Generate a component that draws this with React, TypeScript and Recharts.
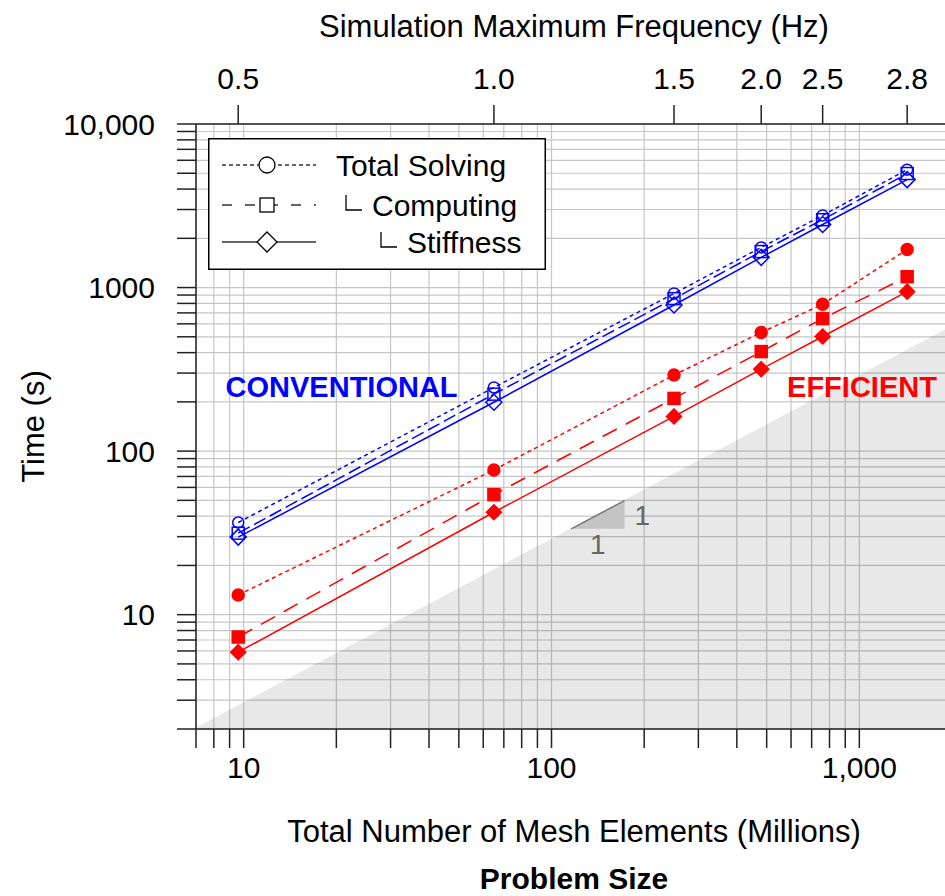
import React from "react";
import {
  Area,
  CartesianGrid,
  ComposedChart,
  Label,
  Legend,
  Line,
  ReferenceDot,
  XAxis,
  YAxis,
} from "recharts";

// problem size (millions of elements) and the matching max frequency
const meshElements = [9.6, 65, 250, 480, 760, 1430];
const frequencyLabels = ["0.5", "1.0", "1.5", "2.0", "2.5", "2.8"];

// conventional (blue)
const convTotal = [36.6, 245, 920, 1760, 2760, 5260];
const convComputing = [31.5, 223, 855, 1660, 2600, 4980];
const convStiffness = [29.8, 199, 782, 1530, 2430, 4570];

// efficient (red)
const effTotal = [13.2, 76.7, 292, 531, 790, 1710];
const effComputing = [7.3, 54.2, 210, 406, 646, 1165];
const effStiffness = [5.9, 42.3, 163, 317, 502, 944];

const xTicks = [
  7, 8, 9, 10, 20, 30, 40, 50, 60, 70, 80, 90, 100, 200, 300, 400, 500, 600,
  700, 800, 900, 1000, 2000,
];
const xTickLabels: Record<number, string> = { 10: "10", 100: "100", 1000: "1,000" };
const yTicks = [
  2, 3, 4, 5, 6, 7, 8, 9, 10, 20, 30, 40, 50, 60, 70, 80, 90, 100, 200, 300,
  400, 500, 600, 700, 800, 900, 1000, 2000, 3000, 4000, 5000, 6000, 7000, 8000,
  9000, 10000,
];
const yTickLabels: Record<number, string> = {
  10: "10",
  100: "100",
  1000: "1000",
  10000: "10,000",
};

// grey region under slope 1 and the small slope triangle
const shadeX = [7, 2000];
const shadeY = [2.04, 583];
const slopeX = [115.9, 172.6];
const slopeY = [33.5, 49.8];

const chartData = meshElements.map((x, i) => ({
  x,
  convTotal: convTotal[i],
  convComputing: convComputing[i],
  convStiffness: convStiffness[i],
  effTotal: effTotal[i],
  effComputing: effComputing[i],
  effStiffness: effStiffness[i],
}));
const shadeData = shadeX.map((x, i) => ({ x, y: shadeY[i] }));
const slopeData = slopeX.map((x, i) => ({ x, y: slopeY[i] }));

const BLUE = "#0000ff";
const RED = "#ff0000";
const AXIS = "#222";

function marker(shape: string, color: string, filled: boolean, size: number) {
  return (props: any) => {
    const { cx, cy, index } = props;
    if (cx == null || cy == null) return null;
    const fill = filled ? color : "none";
    const common = { fill, stroke: color, strokeWidth: 1.5, key: `m-${index}` };
    if (shape === "circle") return <circle cx={cx} cy={cy} r={size} {...common} />;
    if (shape === "square")
      return <rect x={cx - size} y={cy - size} width={size * 2} height={size * 2} {...common} />;
    return (
      <polygon
        points={`${cx},${cy - size} ${cx + size},${cy} ${cx},${cy + size} ${cx - size},${cy}`}
        {...common}
      />
    );
  };
}

function LegendBox() {
  const rows = [
    { y: 27, dash: "4 3", shape: "circle", bracket: null, textX: 128, name: "Total Solving" },
    { y: 67, dash: "10 13", shape: "square", bracket: 136, textX: 164, name: "Computing" },
    { y: 104, dash: undefined, shape: "diamond", bracket: 171, textX: 199, name: "Stiffness" },
  ];
  return (
    <svg width={338} height={132} style={{ display: "block" }}>
      <rect x={0.75} y={0.75} width={336.5} height={130.5} fill="#fff" stroke="#000" strokeWidth={1.5} />
      {rows.map((r) => (
        <g key={r.name}>
          <line x1={14} x2={108} y1={r.y} y2={r.y} stroke="#333" strokeWidth={1.3} strokeDasharray={r.dash} />
          {r.shape === "circle" && <circle cx={59} cy={r.y} r={8} fill="#fff" stroke="#000" strokeWidth={1.3} />}
          {r.shape === "square" && <rect x={52} y={r.y - 7} width={14} height={14} fill="#fff" stroke="#000" strokeWidth={1.3} />}
          {r.shape === "diamond" && (
            <polygon points={`59,${r.y - 10} 69,${r.y} 59,${r.y + 10} 49,${r.y}`} fill="#fff" stroke="#000" strokeWidth={1.3} />
          )}
          {r.bracket != null && (
            <path d={`M${r.bracket + 2},${r.y - 10} V${r.y + 5} H${r.bracket + 18}`} fill="none" stroke="#000" strokeWidth={1.3} />
          )}
          <text x={r.textX} y={r.y + 11} fontSize={30} fill="#000">
            {r.name}
          </text>
        </g>
      ))}
    </svg>
  );
}

const topTitle = (props: any) => {
  const vb = props.viewBox;
  return (
    <text x={vb.x + vb.width / 2} y={37} textAnchor="middle" fontSize={31} fill="#000">
      Simulation Maximum Frequency (Hz)
    </text>
  );
};

const bottomTitle = (props: any) => {
  const vb = props.viewBox;
  const cx = vb.x + vb.width / 2;
  return (
    <g>
      <text x={cx} y={842} textAnchor="middle" fontSize={31} fill="#000">
        Total Number of Mesh Elements (Millions)
      </text>
      <text x={cx} y={889} textAnchor="middle" fontSize={30} fontWeight={700} fill="#000">
        Problem Size
      </text>
    </g>
  );
};

const leftTitle = (props: any) => {
  const vb = props.viewBox;
  const cy = vb.y + vb.height / 2;
  return (
    <text x={44} y={cy} textAnchor="middle" fontSize={31} fill="#000" transform={`rotate(-90 44 ${cy})`}>
      Time (s)
    </text>
  );
};

export default function App() {
  return (
    <div
      style={{
        position: "absolute",
        left: 0,
        top: 0,
        width: 945,
        height: 896,
        overflow: "hidden",
        background: "#fff",
        fontFamily: "'Liberation Sans', Arial, sans-serif",
      }}
    >
      <ComposedChart
        width={960}
        height={896}
        data={chartData}
        margin={{ top: 0, right: 8, bottom: 0, left: 0 }}
      >
        <CartesianGrid stroke="#c6c6c6" strokeWidth={1.2} />
        <XAxis
          dataKey="x"
          type="number"
          scale="log"
          domain={[7, 2000]}
          allowDataOverflow
          ticks={xTicks}
          interval={0}
          tickFormatter={(v: number) => xTickLabels[v] ?? ""}
          height={167}
          tickSize={19}
          tickMargin={9}
          axisLine={{ stroke: AXIS, strokeWidth: 1.5 }}
          tickLine={{ stroke: AXIS, strokeWidth: 1.5 }}
          tick={{ fill: "#000", fontSize: 30 }}
        >
          <Label content={bottomTitle} />
        </XAxis>
        <XAxis
          xAxisId="top"
          orientation="top"
          dataKey="x"
          type="number"
          scale="log"
          domain={[7, 2000]}
          allowDataOverflow
          ticks={meshElements}
          interval={0}
          tickFormatter={(v: number) => frequencyLabels[meshElements.indexOf(v)] ?? ""}
          height={124}
          tickSize={19}
          tickMargin={16}
          axisLine={{ stroke: AXIS, strokeWidth: 1.5 }}
          tickLine={{ stroke: AXIS, strokeWidth: 1.5 }}
          tick={{ fill: "#000", fontSize: 30 }}
        >
          <Label content={topTitle} />
        </XAxis>
        <YAxis
          type="number"
          scale="log"
          domain={[2, 10000]}
          allowDataOverflow
          ticks={yTicks}
          interval={0}
          tickFormatter={(v: number) => yTickLabels[v] ?? ""}
          width={196}
          tickSize={19}
          tickMargin={22}
          axisLine={{ stroke: AXIS, strokeWidth: 1.5 }}
          tickLine={{ stroke: AXIS, strokeWidth: 1.5 }}
          tick={{ fill: "#000", fontSize: 30 }}
        >
          <Label content={leftTitle} />
        </YAxis>

        <Area
          data={shadeData}
          dataKey="y"
          type="linear"
          baseValue={2}
          fill="#000"
          fillOpacity={0.09}
          stroke="none"
          isAnimationActive={false}
          legendType="none"
        />
        <Area
          data={slopeData}
          dataKey="y"
          type="linear"
          baseValue={slopeY[0]}
          fill="#c4c4c4"
          fillOpacity={1}
          stroke="#777"
          strokeWidth={1.5}
          isAnimationActive={false}
          legendType="none"
        />

        <Line dataKey="convTotal" stroke={BLUE} strokeWidth={1.5} strokeDasharray="4 3.5" dot={marker("circle", BLUE, false, 5.5)} isAnimationActive={false} />
        <Line dataKey="convComputing" stroke={BLUE} strokeWidth={1.5} strokeDasharray="13 5" dot={marker("square", BLUE, false, 6)} isAnimationActive={false} />
        <Line dataKey="convStiffness" stroke={BLUE} strokeWidth={1.5} dot={marker("diamond", BLUE, false, 8)} isAnimationActive={false} />
        <Line dataKey="effTotal" stroke={RED} strokeWidth={1.5} strokeDasharray="4 3.5" dot={marker("circle", RED, true, 6)} isAnimationActive={false} />
        <Line dataKey="effComputing" stroke={RED} strokeWidth={1.5} strokeDasharray="16 10" dot={marker("square", RED, true, 6)} isAnimationActive={false} />
        <Line dataKey="effStiffness" stroke={RED} strokeWidth={1.5} dot={marker("diamond", RED, true, 7.5)} isAnimationActive={false} />

        <ReferenceDot x={20.8} y={246} r={0} stroke="none" fill="none"
          label={{ value: "CONVENTIONAL", position: "center", fill: BLUE, fontSize: 29, fontWeight: 700 }} />
        <ReferenceDot x={1020} y={246} r={0} stroke="none" fill="none"
          label={{ value: "EFFICIENT", position: "center", fill: RED, fontSize: 29, fontWeight: 700 }} />
        <ReferenceDot x={slopeX[1]} y={40.8} r={0} stroke="none" fill="none"
          label={{ value: "1", position: "right", offset: 10, fill: "#666", fontSize: 28 }} />
        <ReferenceDot x={141.4} y={slopeY[0]} r={0} stroke="none" fill="none"
          label={{ value: "1", position: "bottom", offset: 5, fill: "#666", fontSize: 28 }} />

        <Legend
          layout="vertical"
          align="center"
          verticalAlign="middle"
          wrapperStyle={{ position: "absolute", left: 208, top: 138, width: 338, height: 132 }}
          content={() => <LegendBox />}
        />
      </ComposedChart>
    </div>
  );
}
